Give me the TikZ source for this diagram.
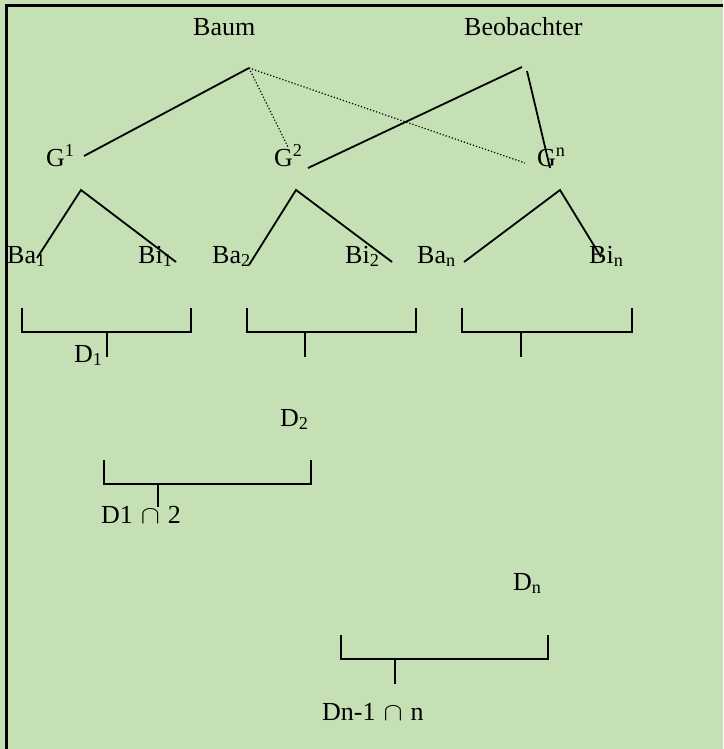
\documentclass[tikz,border=0pt]{standalone}
\usepackage{fontspec}
\setmainfont{Liberation Serif}
\definecolor{bggreen}{RGB}{197,224,180}
\newcommand{\bigcut}{\hspace{8pt}\resizebox{19pt}{14pt}{$\cap$}\hspace{8pt}}
\begin{document}
\begin{tikzpicture}[x=1pt,y=-1pt,
    lbl/.style={anchor=base west, inner sep=0pt, font=\fontsize{26}{30}\selectfont},
    solidline/.style={line width=1.8pt},
    dotline/.style={line width=1.2pt, dotted},
    brk/.style={line width=1.8pt}]
  % background and frame
  \fill[bggreen] (0,0) rectangle (723,749);
  \useasboundingbox (0,0) rectangle (723,749);
  \draw[line width=3pt] (6,749) -- (6,6) -- (723,6);

  % labels
  \node[lbl] (baum) at (193,36) {Baum};
  \node[lbl] (beob) at (464,36) {Beobachter};
  \node[lbl] (g1) at (46,166) {G\textsuperscript{1}};
  \node[lbl] (g2) at (274,166) {G\textsuperscript{2}};
  \node[lbl] (gn) at (537,166) {G\textsuperscript{n}};
  \node[lbl] (ba1) at (7,263) {Ba\textsubscript{1}};
  \node[lbl] (bi1) at (138,263) {Bi\textsubscript{1}};
  \node[lbl] (ba2) at (212,263) {Ba\textsubscript{2}};
  \node[lbl] (bi2) at (345,263) {Bi\textsubscript{2}};
  \node[lbl] (ban) at (417,263) {Ba\textsubscript{n}};
  \node[lbl] (bin) at (589,263) {Bi\textsubscript{n}};
  \node[lbl] (d1) at (74,362) {D\textsubscript{1}};
  \node[lbl] (d2) at (280,426) {D\textsubscript{2}};
  \node[lbl] (d12) at (101,523) {D1\bigcut2};
  \node[lbl] (dn) at (513,590) {D\textsubscript{n}};
  \node[lbl] (dnn) at (322,720) {Dn-1\bigcut n};

  % upper branches
  \coordinate (baumtop) at (249,68);
  \coordinate (beobtop) at (522,67);
  \coordinate (beobtopb) at (527,71);
  \coordinate (g1end) at (84,156);
  \coordinate (g2dot) at (288,147);
  \coordinate (gndot) at (525,163);
  \coordinate (g2end) at (308,168);
  \coordinate (gnend) at (550,168);
  \draw[solidline] (baumtop) -- (g1end);
  \draw[dotline] (baumtop) -- (g2dot);
  \draw[dotline] (baumtop) -- (gndot);
  \draw[solidline] (beobtop) -- (g2end);
  \draw[solidline] (beobtopb) -- (gnend);

  % lower trees
  \foreach \name/\ax/\lx/\ly/\rx/\ry in {t1/81/37/258/176/262, t2/296/249/265/392/262, tn/560/464/262/601/257}{
    \coordinate (\name-top) at (\ax,190);
    \coordinate (\name-l) at (\lx,\ly);
    \coordinate (\name-r) at (\rx,\ry);
    \draw[solidline] (\name-l) -- (\name-top) -- (\name-r);
  }

  % brackets
  \foreach \name/\l/\r/\s/\t/\b/\e in {b1/22/191/107/308/332/357, b2/247/416/305/308/332/357,
      b3/462/632/521/308/332/357, b4/104/311/158/460/484/507, b5/341/548/395/635/659/684}{
    \coordinate (\name-lt) at (\l,\t);
    \coordinate (\name-lb) at (\l,\b);
    \coordinate (\name-rb) at (\r,\b);
    \coordinate (\name-rt) at (\r,\t);
    \coordinate (\name-st) at (\s,\b);
    \coordinate (\name-se) at (\s,\e);
    \draw[brk] (\name-lt) -- (\name-lb) -- (\name-rb) -- (\name-rt);
    \draw[brk] (\name-st) -- (\name-se);
  }
\end{tikzpicture}
\end{document}
